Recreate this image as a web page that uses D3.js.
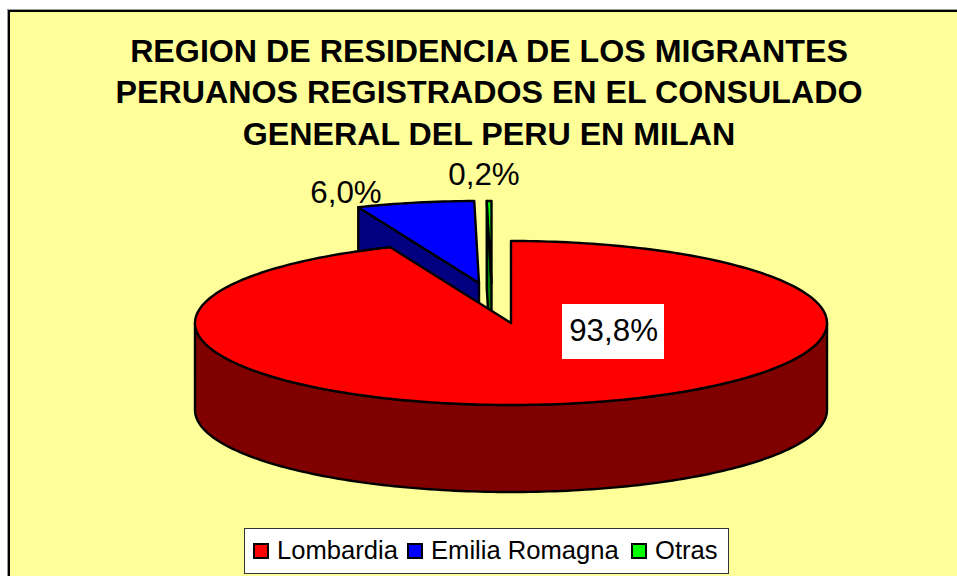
<!DOCTYPE html>
<html>
<head>
<meta charset="utf-8">
<script src="https://cdn.jsdelivr.net/npm/d3@7"></script>
<style>
  html, body { margin: 0; padding: 0; background: #fff; overflow: hidden; }
  text { font-family: "Liberation Sans", Arial, sans-serif; }
</style>
</head>
<body>
<div id="container"></div>
<script>
const w = 957;
const h = 576;

const titleLines = [
  "REGION DE RESIDENCIA DE LOS MIGRANTES",
  "PERUANOS REGISTRADOS EN EL CONSULADO",
  "GENERAL DEL PERU EN MILAN"
];
const categories = ["Lombardia", "Emilia Romagna", "Otras"];
const values = [93.8, 6.0, 0.24];
const valueLabels = ["93,8%", "6,0%", "0,2%"];

const topColors = ["#ff0000", "#0000ff", "#00ff00"];
const sideColors = ["#800000", "#000080", "#008000"];

const cx = 511, cy = 323, rx = 316, ry = 82, depth = 87;
// exploded slices, offset of the tip from the pie centre
const offsets = [[0, 0], [-32, -40], [-19.5, -40]];

const svg = d3.select("#container").append("svg")
  .attr("width", w).attr("height", h)
  .style("display", "block");

// chart area runs off the right and bottom of the picture
svg.append("rect")
  .attr("x", 7.5).attr("y", 9.5)
  .attr("width", 1000).attr("height", 600)
  .attr("fill", "none").attr("stroke", "#999").attr("stroke-width", 1);
svg.append("rect")
  .attr("x", 9).attr("y", 11)
  .attr("width", 1000).attr("height", 600)
  .attr("fill", "#ffff99").attr("stroke", "#000").attr("stroke-width", 2);

svg.selectAll("text.title").data(titleLines).enter().append("text")
  .attr("class", "title")
  .attr("x", 489)
  .attr("y", (d, i) => [62, 103, 145][i])
  .attr("text-anchor", "middle")
  .attr("font-size", 32.2)
  .attr("font-weight", "bold")
  .text((d) => d);

const slices = d3.pie().sort(null)(values);

// d3 pie angles run clockwise from 12 o'clock, squash them on to the ellipse
function pt(a, off, drop) {
  return [cx + off[0] + rx * Math.sin(a), cy + off[1] + drop - ry * Math.cos(a)];
}
function arcPts(a0, a1, off, drop) {
  const n = Math.max(2, Math.ceil(Math.abs(a1 - a0) / 0.02));
  return d3.range(n + 1).map((k) => pt(a0 + (a1 - a0) * k / n, off, drop));
}
const line = d3.line();

// draw back to front: Otras, Emilia Romagna, Lombardia
[2, 1, 0].forEach(function (i) {
  const s = slices[i];
  const off = offsets[i];
  const tip = [cx + off[0], cy + off[1]];
  const g = svg.append("g")
    .attr("stroke", "#000").attr("stroke-width", 2.4).attr("stroke-linejoin", "round");

  if (i === 0) {
    // outer wall, only the front half of the ellipse shows
    const top = arcPts(Math.PI / 2, Math.PI * 1.5, off, 0);
    const bottom = arcPts(Math.PI * 1.5, Math.PI / 2, off, depth);
    g.append("path")
      .attr("d", line(top.concat(bottom)) + "Z")
      .attr("fill", sideColors[i]);
  } else {
    // cut face on the left of the slice
    const outer = pt(s.startAngle, off, 0);
    const outerLow = pt(s.startAngle, off, depth);
    g.append("path")
      .attr("d", line([outer, tip, [tip[0], tip[1] + depth], outerLow]) + "Z")
      .attr("fill", sideColors[i]);
  }

  g.append("path")
    .attr("d", line([tip].concat(arcPts(s.startAngle, s.endAngle, off, 0))) + "Z")
    .attr("fill", topColors[i]);
});

// data labels
const labelPos = [[613.6, 341], [346, 203], [484, 185]];
svg.append("rect")
  .attr("x", 562).attr("y", 304).attr("width", 102).attr("height", 55)
  .attr("fill", "#fff");
svg.selectAll("text.label").data(valueLabels).enter().append("text")
  .attr("class", "label")
  .attr("x", (d, i) => labelPos[i][0])
  .attr("y", (d, i) => labelPos[i][1])
  .attr("text-anchor", "middle")
  .attr("font-size", 31.3)
  .text((d) => d);

// legend
const legend = svg.append("g");
legend.append("rect")
  .attr("x", 244.5).attr("y", 528.5).attr("width", 484).attr("height", 45)
  .attr("fill", "#fff").attr("stroke", "#333").attr("stroke-width", 1);
const legendX = [277, 431, 655];
categories.forEach(function (c, i) {
  legend.append("rect")
    .attr("x", legendX[i] - 23).attr("y", 544).attr("width", 14).attr("height", 14)
    .attr("fill", topColors[i]).attr("stroke", "#000").attr("stroke-width", 2);
  legend.append("text")
    .attr("x", legendX[i]).attr("y", 558.5)
    .attr("font-size", 25.6)
    .text(c);
});
</script>
</body>
</html>
